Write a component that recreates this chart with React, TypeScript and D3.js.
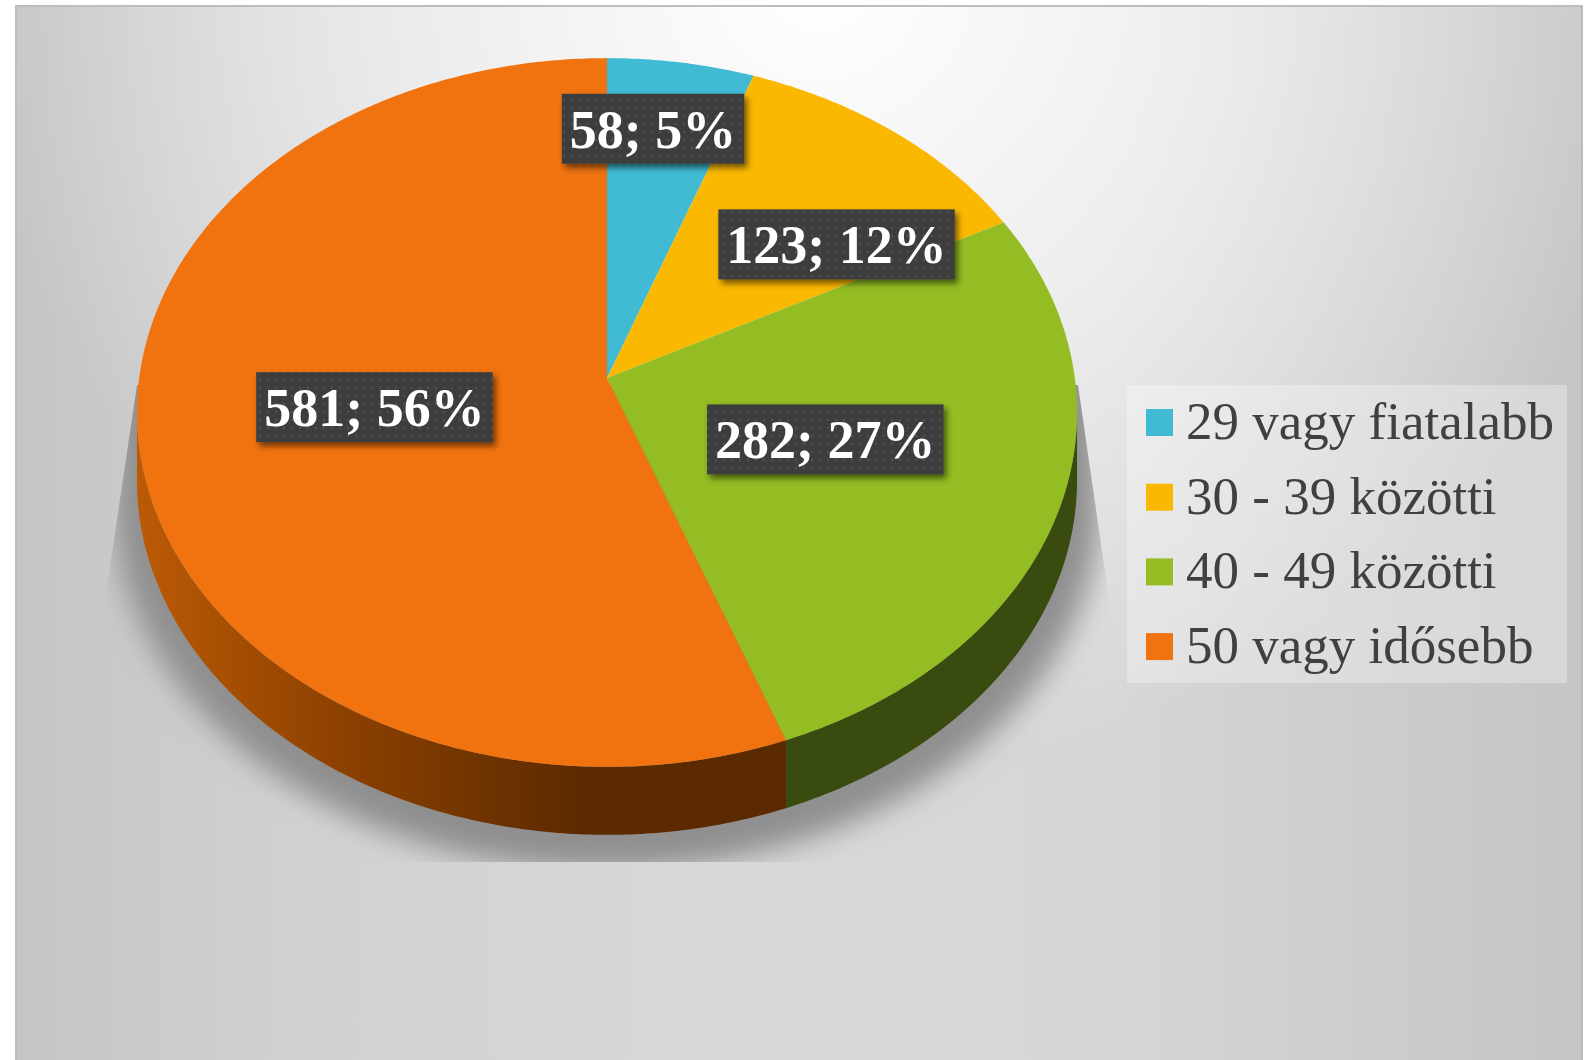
import React from "react";
import * as d3 from "d3";

// ---- data ----
const categories = ["29 vagy fiatalabb", "30 - 39 közötti", "40 - 49 közötti", "50 vagy idősebb"];
const values = [58, 123, 282, 581];
const percentLabels = ["5%", "12%", "27%", "56%"];
const colors = ["#41bbd4", "#fbb800", "#93bd22", "#f07310"];

// ---- layout ----
const W = 1589;
const H = 1060;
const CX = 607; // projected pie centre
const CY = 378;
const A = 467.8; // horizontal radius factor
const B = 351; // vertical radius factor
const K = 0.0973; // perspective factor
const DEPTH = 68;
// best-fit label placement (radius fraction, angle shift in degrees)
const labelRadius = [0.77, 0.645, 0.49, 0.5];
const labelShift = [-2.1, 11, -0.5, 0.7];

const proj = (a: number, f = 1): [number, number] => {
  const s = 1 + K * f * Math.cos(a);
  return [CX + (A * f * Math.sin(a)) / s, CY - (B * f * Math.cos(a)) / s];
};

const arcPts = (a0: number, a1: number, dy = 0): [number, number][] => {
  const n = Math.max(2, Math.ceil(Math.abs(a1 - a0) / 0.01));
  return d3.range(n + 1).map((i) => {
    const p = proj(a0 + ((a1 - a0) * i) / n);
    return [p[0], p[1] + dy] as [number, number];
  });
};

const line = d3.line<[number, number]>();

let ctx: CanvasRenderingContext2D | null = null;
const measure = (t: string) => {
  if (!ctx) ctx = document.createElement("canvas").getContext("2d");
  if (!ctx) return t.length * 27;
  ctx.font = 'bold 54px "Liberation Serif"';
  return ctx.measureText(t).width;
};

export default function App() {
  const color = d3.scaleOrdinal<string, string>().domain(categories).range(colors);
  const pie = d3.pie<number>().sort(null).value((d) => d);
  const arcs = pie(values);

  const visLo = Math.acos(-K);
  const visHi = 2 * Math.PI - visLo;

  const sides = arcs
    .map((a, i) => {
      const s = Math.max(a.startAngle, visLo);
      const e = Math.min(a.endAngle, visHi);
      if (e <= s) return null;
      const top = arcPts(s, e);
      const bot = arcPts(e, s, DEPTH);
      return { i, d: line([...top, ...bot])! + "Z" };
    })
    .filter(Boolean) as { i: number; d: string }[];

  const tops = arcs.map((a, i) => {
    const pts = [proj(0, 0), ...arcPts(a.startAngle, a.endAngle)];
    return { i, d: line(pts)! + "Z" };
  });

  const silhouette =
    line(arcPts(0, 2 * Math.PI))! + "Z " + line(arcPts(0, 2 * Math.PI, DEPTH))! + "Z";

  const labels = arcs.map((a, i) => {
    const mid = (a.startAngle + a.endAngle) / 2 + (labelShift[i] * Math.PI) / 180;
    const [x, y] = proj(mid, labelRadius[i]);
    const text = `${values[i]}; ${percentLabels[i]}`;
    const w = measure(text) + 16;
    return { x, y, text, w };
  });

  const legendX = 1127;
  const legendY = 385;
  const rowH = 74.7;
  const firstBase = 439;

  return (
    <svg
      width={W}
      height={H}
      style={{ position: "absolute", left: 0, top: 0 }}
      xmlns="http://www.w3.org/2000/svg"
    >
      <defs>
        <linearGradient id="bgBase" gradientUnits="userSpaceOnUse" x1={16} y1={0} x2={1582} y2={0}>
          <stop offset="0" stopColor="#c5c5c5" />
          <stop offset="0.18" stopColor="#d1d1d1" />
          <stop offset="0.45" stopColor="#d8d8d8" />
          <stop offset="0.7" stopColor="#d6d6d6" />
          <stop offset="1" stopColor="#c5c5c5" />
        </linearGradient>
        <radialGradient
          id="bgGlow"
          gradientUnits="userSpaceOnUse"
          cx={0}
          cy={0}
          r={1}
          gradientTransform="translate(820,-20) scale(850,800)"
        >
          <stop offset="0" stopColor="#ffffff" stopOpacity="1" />
          <stop offset="0.5" stopColor="#ffffff" stopOpacity="0.55" />
          <stop offset="1" stopColor="#ffffff" stopOpacity="0" />
        </radialGradient>
        <linearGradient id="orangeSide" gradientUnits="userSpaceOnUse" x1={137} y1={0} x2={580} y2={0}>
          <stop offset="0" stopColor="#bb5a06" />
          <stop offset="0.45" stopColor="#8e4100" />
          <stop offset="1" stopColor="#5c2a00" />
        </linearGradient>
        <filter id="blur" x="-20%" y="-20%" width="140%" height="140%">
          <feGaussianBlur stdDeviation="14" />
        </filter>
        <clipPath id="shadowClip">
          <polygon points="137,385 1078,385 1112,620 1112,862 102,862 102,620" />
        </clipPath>
        <pattern id="dots" width="8" height="8" patternUnits="userSpaceOnUse">
          <rect width="8" height="8" fill="#3e3e3e" />
          <circle cx="4" cy="4" r="1.3" fill="#4f4f4f" />
        </pattern>
        <filter id="lblShadow" x="-10%" y="-20%" width="130%" height="160%">
          <feDropShadow dx="3" dy="4" stdDeviation="3" floodColor="#000" floodOpacity="0.55" />
        </filter>
      </defs>

      <rect x={0} y={0} width={W} height={H} fill="#ffffff" />
      <rect x={16} y={6} width={1566} height={H + 10} fill="url(#bgBase)" />
      <rect x={16} y={6} width={1566} height={H + 10} fill="url(#bgGlow)" stroke="#bdbdbd" strokeWidth={2} />

      {/* shadow */}
      <g clipPath="url(#shadowClip)">
        <path
          d={silhouette}
          fill="#8f8f8f"
          filter="url(#blur)"
          transform="translate(607,470) scale(1.05,1.04) translate(-607,-450)"
        />
      </g>

      {/* sides */}
      {sides.map((s) => (
        <path
          key={"s" + s.i}
          d={s.d}
          fill={
            s.i === 3
              ? "url(#orangeSide)"
              : s.i === 2
              ? "#3a4b0f"
              : d3.color(color(categories[s.i]))!.darker(1.5).toString()
          }
        />
      ))}

      {/* tops */}
      {tops.map((t) => (
        <path key={"t" + t.i} d={t.d} fill={color(categories[t.i])} />
      ))}

      {/* labels */}
      {labels.map((l, i) => (
        <g key={"l" + i}>
          <rect
            x={l.x - l.w / 2}
            y={l.y - 35}
            width={l.w}
            height={70}
            fill="url(#dots)"
            filter="url(#lblShadow)"
          />
          <text
            x={l.x}
            y={l.y + 19}
            textAnchor="middle"
            fill="#ffffff"
            fontFamily='"Liberation Serif", "Times New Roman", serif'
            fontWeight="bold"
            fontSize={54}
          >
            {l.text}
          </text>
        </g>
      ))}

      {/* legend */}
      <rect x={legendX} y={legendY} width={440} height={298} fill="#ffffff" fillOpacity={0.3} />
      {categories.map((c, i) => (
        <g key={"lg" + i}>
          <rect x={1146} y={firstBase + i * rowH - 30} width={27} height={27} fill={color(c)} />
          <text
            x={1186}
            y={firstBase + i * rowH}
            fill="#404040"
            fontFamily='"Liberation Serif", "Times New Roman", serif'
            fontSize={53}
          >
            {c}
          </text>
        </g>
      ))}
    </svg>
  );
}
